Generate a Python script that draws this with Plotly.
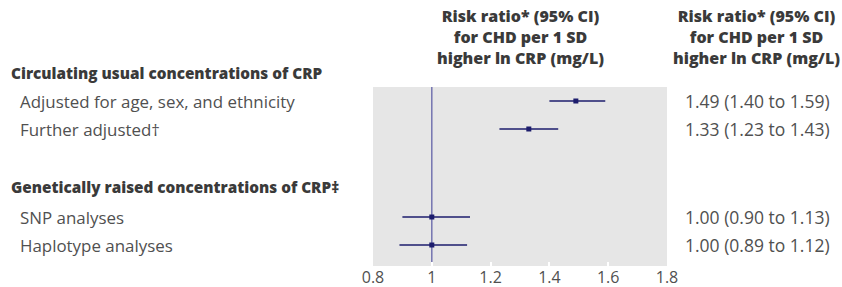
import plotly.graph_objects as go

labels = ["Adjusted for age, sex, and ethnicity", "Further adjusted†", "SNP analyses", "Haplotype analyses"]
groups = ["Circulating usual concentrations of CRP", "Genetically raised concentrations of CRP‡"]
rr = [1.49, 1.33, 1.00, 1.00]
lo = [1.40, 1.23, 0.90, 0.89]
hi = [1.59, 1.43, 1.13, 1.12]
value_text = ["1.49 (1.40 to 1.59)", "1.33 (1.23 to 1.43)", "1.00 (0.90 to 1.13)", "1.00 (0.89 to 1.12)"]
x_ticks = [0.8, 1, 1.2, 1.4, 1.6, 1.8]
x_tick_labels = ["0.8", "1", "1.2", "1.4", "1.6", "1.8"]
col_header = "Risk ratio* (95% CI)<br>for CHD per 1 SD<br>higher ln CRP (mg/L)"

# vertical positions in pixels from top of the page
row_px = [101, 129, 217, 245]
group_px = [73, 187]

FONT = "Open Sans"
NAVY = "#1c1c6c"
TXT = "#505050"
HTXT = "#3a3a3a"

W, H = 842, 287
ml, mr, mt, mb = 373, 175, 87, 21
pw = W - ml - mr
ph = H - mt - mb

def px_x(x):
    return (x - ml) / pw

def px_y(y):
    return (H - mb - y) / ph

fig = go.Figure()

fig.add_shape(type="line", x0=1, x1=1, y0=0, y1=1, xref="x", yref="paper",
              line=dict(color="#7474b0", width=1.5), layer="below")

for i in range(len(rr)):
    fig.add_trace(go.Scatter(x=[lo[i], hi[i]], y=[px_y(row_px[i])] * 2, mode="lines",
                             line=dict(color=NAVY, width=1.3), showlegend=False, hoverinfo="skip"))
fig.add_trace(go.Scatter(x=rr, y=[px_y(p) for p in row_px], mode="markers",
                         marker=dict(symbol="square", size=5, color=NAVY),
                         showlegend=False))

for i, t in enumerate(labels):
    fig.add_annotation(x=px_x(18), xref="paper", y=px_y(row_px[i]), yref="paper", text=t, showarrow=False,
                       xanchor="left", yanchor="middle", font=dict(family=FONT, size=16.9, color=TXT))
for i, t in enumerate(groups):
    fig.add_annotation(x=px_x(9), xref="paper", y=px_y(group_px[i]), yref="paper", text=t,
                       showarrow=False, xanchor="left", yanchor="middle",
                       font=dict(family=FONT, size=15.3, color=HTXT, weight=800))
for i, t in enumerate(value_text):
    fig.add_annotation(x=px_x(683), xref="paper", y=px_y(row_px[i]), yref="paper", text=t, showarrow=False,
                       xanchor="left", yanchor="middle", font=dict(family=FONT, size=17.5, color=TXT))
for cx in [520, 756]:
    fig.add_annotation(x=px_x(cx), xref="paper", y=px_y(37), yref="paper", text=col_header,
                       showarrow=False, xanchor="center", yanchor="middle",
                       font=dict(family=FONT, size=16, color=HTXT, weight=800))

fig.update_xaxes(range=[0.8, 1.8], tickvals=x_ticks, ticktext=x_tick_labels, showgrid=False, zeroline=False,
                 ticks="inside", ticklen=4, tickcolor="white", tickwidth=2, automargin=False,
                 tickfont=dict(family=FONT, size=16, color=TXT), showline=False)
fig.update_yaxes(range=[0, 1], visible=False, showgrid=False, zeroline=False, automargin=False)

fig.update_layout(width=W, height=H, margin=dict(l=ml, r=mr, t=mt, b=mb),
                  plot_bgcolor="#e6e6e6", paper_bgcolor="white", showlegend=False)

fig.write_html("out.html", config={"displayModeBar": False},
               post_script="document.body.style.margin='0px';")
